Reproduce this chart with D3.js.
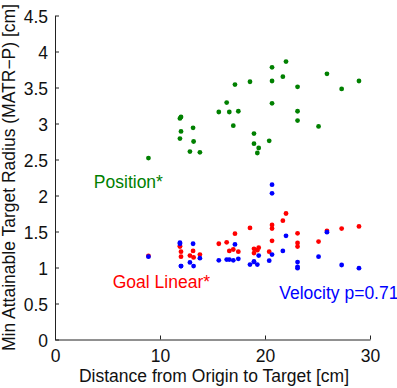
<!DOCTYPE html>
<html>
    <head>
        <script src="https://d3js.org/d3.v7.js"></script>
        <style>
            body{
                margin: 0;
                background: white;
            }
            text{
                font-family: "Liberation Sans", Arial, Helvetica, sans-serif;
            }
        </style>
    </head>
    <body>
        <div class="graph"></div>
        <script>
            // distance from origin to target for each trial [cm]
            const distance = [8.9, 11.9, 12.0, 12.0, 11.9, 12.85, 13.15, 13.2, 13.8, 15.6,
                              16.35, 16.6, 16.98, 17.14, 17.46, 18.57, 18.95, 18.95, 19.27, 19.4,
                              20.4, 20.67, 20.67, 20.67, 21.7, 22.0, 23.1, 23.1, 23.1, 25.1,
                              25.9, 27.3, 28.95]
            const position = [2.52, 3.07, 3.09, 2.89, 2.79, 2.61, 2.94, 2.75, 2.60, 3.16,
                              3.29, 3.16, 2.97, 3.54, 3.17, 3.58, 2.86, 2.72, 2.59, 2.66,
                              2.76, 3.78, 3.59, 3.28, 3.65, 3.86, 3.51, 3.17, 3.04, 2.96,
                              3.69, 3.48, 3.59]
            const goalLinear = [1.16, 1.30, 1.22, 1.15, 1.29, 1.165, 1.23, 1.14, 1.18, 1.33,
                                1.35, 1.23, 1.25, 1.47, 1.22, 1.55, 1.26, 1.20, 1.24, 1.275,
                                1.22, 1.59, 1.54, 1.37, 1.65, 1.75, 1.475, 1.34, 1.29, 1.36,
                                1.51, 1.54, 1.57]
            const velocity = [1.15, 1.345, 1.02, 1.02, 1.33, 1.07, 1.33, 1.02, 1.13, 1.10,
                              1.11, 1.11, 1.10, 1.32, 1.12, 1.04, 1.08, 1.08, 1.04, 1.165,
                              1.095, 2.15, 2.03, 1.18, 1.23, 1.44, 1.076, 1.01, 0.99, 1.15,
                              1.49, 1.035, 0.99]

            const xTicks = [0, 10, 20, 30]
            const yTicks = [0, 0.5, 1, 1.5, 2, 2.5, 3, 3.5, 4, 4.5]

            const series = [
                {name: 'Position*', values: position, colour: '#008000', label: [3.7, 2.1]},
                {name: 'Goal Linear*', values: goalLinear, colour: '#ff0000', label: [5.5, 0.71]},
                {name: 'Velocity p=0.71', values: velocity, colour: '#0000ff', label: [21.36, 0.56]}
            ]

            const w = 397
            const h = 388
            const fontSize = '17.5px'

            const svg = d3.select('.graph')
                    .append('svg')
                    .attr('width', w)
                    .attr('height', h)

            svg.append('rect')
                .attr('width', w)
                .attr('height', h)
                .attr('fill', 'white')

            const xScale = d3.scaleLinear()
                             .domain([0, 30])
                             .range([55, 370])

            const yScale = d3.scaleLinear()
                             .domain([0, 4.5])
                             .range([339.5, 15.5])

            const xAxis = d3.axisBottom(xScale)
                            .tickValues(xTicks)
                            .tickSizeInner(-4)
                            .tickSizeOuter(0)
                            .tickPadding(10)
                            .tickFormat(d3.format('d'))

            const yAxis = d3.axisLeft(yScale)
                            .tickValues(yTicks)
                            .tickSizeInner(-4)
                            .tickSizeOuter(0)
                            .tickPadding(7)
                            .tickFormat(d => d)

            const gx = svg.append('g')
                .attr('transform', 'translate(0,' + yScale(0) + ')')
                .call(xAxis)

            const gy = svg.append('g')
                .attr('transform', 'translate(' + xScale(0) + ',0)')
                .call(yAxis)

            ;[gx, gy].forEach(g => {
                g.select('.domain').attr('stroke', '#222')
                g.selectAll('.tick line').attr('stroke', '#222')
                g.selectAll('.tick text')
                    .attr('fill', '#111')
                    .style('font-size', fontSize)
                    .style('font-family', '"Liberation Sans", Arial, sans-serif')
            })
            gy.selectAll('.tick text').attr('dy', '0.4em')

            // dots
            series.forEach(s => {
                svg.append('g')
                    .selectAll('circle')
                    .data(distance.map((d, i) => [d, s.values[i]]))
                    .enter()
                    .append('circle')
                    .attr('cx', d => xScale(d[0]))
                    .attr('cy', d => yScale(d[1]))
                    .attr('r', 2.4)
                    .attr('fill', s.colour)

                svg.append('text')
                    .attr('x', xScale(s.label[0]))
                    .attr('y', yScale(s.label[1]))
                    .attr('fill', s.colour)
                    .style('font-size', fontSize)
                    .text(s.name)
            })

            svg.append('text')
                .attr('x', 214)
                .attr('y', 381.5)
                .attr('text-anchor', 'middle')
                .attr('fill', '#111')
                .style('font-size', fontSize)
                .text('Distance from Origin to Target [cm]')

            svg.append('text')
                .attr('transform', 'translate(14.5,' + ((yScale(0) + yScale(4.5)) / 2) + ') rotate(-90)')
                .attr('text-anchor', 'middle')
                .attr('fill', '#111')
                .style('font-size', fontSize)
                .text('Min Attainable Target Radius (MATR\u2212P) [cm]')
        </script>
    </body>
</html>
